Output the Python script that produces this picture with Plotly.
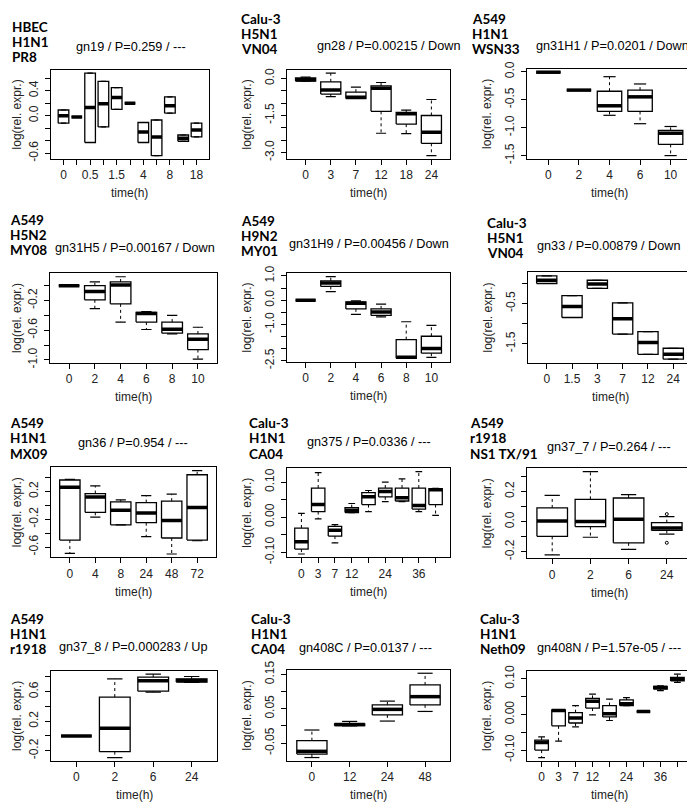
import plotly.graph_objects as go

# five-number summaries per time point: (lower whisker, Q1, median, Q3, upper whisker)
gn19_times = ['0', '', '0.5', '', '1.5', '', '4', '', '8', '', '18']
gn19_box = [(-0.12, -0.12, 0.0, 0.09, 0.09), (-0.02, -0.02, -0.02, -0.02, -0.02),
            (-0.43, -0.43, 0.13, 0.68, 0.68), (-0.18, -0.18, 0.19, 0.55, 0.55),
            (0.10, 0.10, 0.29, 0.45, 0.45), (0.2, 0.2, 0.2, 0.2, 0.2),
            (-0.43, -0.43, -0.26, -0.11, -0.11), (-0.64, -0.64, -0.34, -0.07, -0.07),
            (0.04, 0.04, 0.16, 0.30, 0.30), (-0.41, -0.41, -0.36, -0.31, -0.31),
            (-0.34, -0.34, -0.23, -0.12, -0.12)]

gn28_times = ['0', '3', '7', '12', '18', '24']
gn28_box = [(-0.10, -0.10, -0.05, 0.03, 0.06), (-0.73, -0.63, -0.46, -0.13, 0.22),
            (-0.81, -0.81, -0.76, -0.55, -0.35), (-2.22, -1.33, -0.39, -0.30, -0.16),
            (-2.24, -1.85, -1.43, -1.37, -1.28), (-3.13, -2.63, -2.18, -1.50, -0.85)]

gn31h1_times = ['0', '2', '4', '6', '10']
gn31h1_box = [(-0.01, -0.01, -0.01, -0.01, -0.01), (-0.33, -0.33, -0.33, -0.33, -0.33),
              (-0.78, -0.71, -0.61, -0.35, -0.09), (-0.93, -0.71, -0.45, -0.33, -0.22),
              (-1.50, -1.30, -1.10, -1.05, -0.98)]

gn31h5_times = ['0', '2', '4', '6', '8', '10']
gn31h5_box = [(0.0, 0.0, 0.0, 0.0, 0.0), (-0.31, -0.19, -0.08, 0.0, 0.05),
              (-0.49, -0.245, 0.01, 0.05, 0.12), (-0.59, -0.49, -0.375, -0.36, -0.35),
              (-0.65, -0.64, -0.585, -0.49, -0.40), (-0.99, -0.86, -0.72, -0.65, -0.56)]

gn31h9_times = ['0', '2', '4', '6', '8', '10']
gn31h9_box = [(0.0, 0.0, 0.0, 0.0, 0.0), (0.35, 0.57, 0.71, 0.80, 0.97),
              (-0.59, -0.36, -0.13, -0.07, -0.03), (-0.69, -0.63, -0.49, -0.36, -0.16),
              (-2.40, -2.40, -2.36, -1.63, -0.89), (-2.36, -2.19, -2.0, -1.49, -1.04)]

gn33_times = ['0', '1.5', '3', '7', '12', '24']
gn33_box = [(-0.01, -0.01, 0.07, 0.18, 0.18), (-0.85, -0.85, -0.58, -0.31, -0.31),
            (-0.13, -0.13, -0.02, 0.07, 0.07), (-1.26, -1.26, -0.88, -0.49, -0.49),
            (-1.76, -1.76, -1.47, -1.20, -1.20), (-1.88, -1.88, -1.76, -1.61, -1.61)]

gn36_times = ['0', '4', '8', '24', '48', '72']
gn36_box = [(-0.69, -0.50, 0.26, 0.365, 0.375), (-0.17, -0.10, 0.12, 0.17, 0.28),
            (-0.28, -0.28, -0.07, 0.05, 0.08), (-0.45, -0.25, -0.11, 0.04, 0.14),
            (-0.70, -0.47, -0.22, 0.06, 0.16), (-0.51, -0.50, -0.03, 0.44, 0.50)]

gn375_times = ['0', '3', '7', '12', '', '24', '', '36', '']
gn375_box = [(-0.105, -0.091, -0.07, -0.031, 0.011), (-0.005, 0.016, 0.036, 0.083, 0.127),
             (-0.073, -0.054, -0.037, -0.026, -0.021), (0.013, 0.013, 0.02, 0.027, 0.039),
             (0.016, 0.036, 0.058, 0.07, 0.076), (0.044, 0.058, 0.073, 0.083, 0.10),
             (0.044, 0.046, 0.055, 0.083, 0.109), (0.016, 0.023, 0.033, 0.083, 0.13),
             (0.005, 0.036, 0.078, 0.081, 0.082)]

gn37_7_times = ['0', '2', '6', '24']
gn37_7_box = [(-0.222, -0.098, 0.004, 0.091, 0.174), (-0.104, -0.033, 0.0, 0.148, 0.333),
              (-0.185, -0.141, 0.015, 0.157, 0.18), (-0.083, -0.059, -0.043, -0.007, 0.033)]
gn37_7_out_x = [4, 4]
gn37_7_out_y = [0.05, -0.141]

gn37_8_times = ['0', '2', '6', '24']
gn37_8_box = [(0.0, 0.0, 0.0, 0.0, 0.0), (-0.292, -0.212, 0.106, 0.527, 0.774),
              (0.593, 0.606, 0.748, 0.796, 0.836), (0.726, 0.73, 0.752, 0.774, 0.805)]

gn408c_times = ['0', '12', '24', '48']
gn408c_box = [(-0.092, -0.082, -0.074, -0.043, -0.012), (0.0, 0.001, 0.004, 0.006, 0.013),
              (0.014, 0.032, 0.048, 0.061, 0.072), (0.042, 0.061, 0.085, 0.119, 0.153)]

gn408n_times = ['0', '3', '7', '12', '', '24', '', '36', '']
gn408n_box = [(-0.121, -0.10, -0.079, -0.072, -0.063), (-0.075, -0.032, 0.011, 0.013, 0.013),
              (-0.035, -0.024, -0.01, 0.005, 0.025), (-0.001, 0.018, 0.037, 0.045, 0.057),
              (-0.017, -0.007, 0.002, 0.025, 0.043), (0.025, 0.025, 0.03, 0.041, 0.047),
              (0.008, 0.008, 0.008, 0.008, 0.008), (0.067, 0.071, 0.076, 0.079, 0.08),
              (0.09, 0.094, 0.099, 0.104, 0.113)]

# y ticks (values, shown labels)
gn19_yt = ([-0.6, -0.4, -0.2, 0, 0.2, 0.4, 0.6], ['-0.6', '', '', '0.0', '', '0.4', ''])
gn28_yt = ([0, -0.5, -1, -1.5, -2, -2.5, -3], ['0.0', '', '', '-1.5', '', '', '-3.0'])
gn31h1_yt = ([0, -0.5, -1, -1.5], ['0.0', '-0.5', '-1.0', '-1.5'])
gn31h5_yt = ([0, -0.2, -0.4, -0.6, -0.8, -1.0], ['', '-0.2', '', '-0.6', '', '-1.0'])
gn31h9_yt = ([1, 0.5, 0, -0.5, -1, -1.5, -2, -2.5], ['1.0', '', '0.0', '', '-1.0', '', '', '-2.5'])
gn33_yt = ([0, -0.5, -1, -1.5], ['', '-0.5', '', '-1.5'])
gn36_yt = ([0.4, 0.2, 0, -0.2, -0.4, -0.6], ['', '0.2', '', '-0.2', '', '-0.6'])
gn375_yt = ([0.1, 0.05, 0, -0.05, -0.1], ['0.10', '', '0.00', '', '-0.10'])
gn37_7_yt = ([0.3, 0.2, 0.1, 0, -0.1, -0.2], ['', '0.2', '', '0.0', '', '-0.2'])
gn37_8_yt = ([0.8, 0.6, 0.4, 0.2, 0, -0.2], ['', '0.6', '', '0.2', '', '-0.2'])
gn408c_yt = ([0.15, 0.1, 0.05, 0, -0.05], ['0.15', '', '0.05', '', '-0.05'])
gn408n_yt = ([0.1, 0.05, 0, -0.05, -0.1], ['0.10', '', '0.00', '', '-0.10'])

labels = [['HBEC', 'H1N1', 'PR8'], ['Calu-3', 'H5N1', 'VN04'], ['A549', 'H1N1', 'WSN33'],
          ['A549', 'H5N2', 'MY08'], ['A549', 'H9N2', 'MY01'], ['Calu-3', 'H5N1', 'VN04'],
          ['A549', 'H1N1', 'MX09'], ['Calu-3', 'H1N1', 'CA04'], ['A549', 'r1918', 'NS1 TX/91'],
          ['A549', 'H1N1', 'r1918'], ['Calu-3', 'H1N1', 'CA04'], ['Calu-3', 'H1N1', 'Neth09']]
titles = ['gn19 / P=0.259 / ---', 'gn28 / P=0.00215 / Down', 'gn31H1 / P=0.0201 / Down',
          'gn31H5 / P=0.00167 / Down', 'gn31H9 / P=0.00456 / Down', 'gn33 / P=0.00879 / Down',
          'gn36 / P=0.954 / ---', 'gn375 / P=0.0336 / ---', 'gn37_7 / P=0.264 / ---',
          'gn37_8 / P=0.000283 / Up', 'gn408C / P=0.0137 / ---', 'gn408N / P=1.57e-05 / ---']

panels = [(gn19_times, gn19_box, gn19_yt, [], []),
          (gn28_times, gn28_box, gn28_yt, [], []),
          (gn31h1_times, gn31h1_box, gn31h1_yt, [], []),
          (gn31h5_times, gn31h5_box, gn31h5_yt, [], []),
          (gn31h9_times, gn31h9_box, gn31h9_yt, [], []),
          (gn33_times, gn33_box, gn33_yt, [], []),
          (gn36_times, gn36_box, gn36_yt, [], []),
          (gn375_times, gn375_box, gn375_yt, [], []),
          (gn37_7_times, gn37_7_box, gn37_7_yt, gn37_7_out_x, gn37_7_out_y),
          (gn37_8_times, gn37_8_box, gn37_8_yt, [], []),
          (gn408c_times, gn408c_box, gn408c_yt, [], []),
          (gn408n_times, gn408n_box, gn408n_yt, [], [])]

# layout in page pixels: plot frame (left, right, top, bottom), label block, title centre
OFF = 8  # default body margin of the html page
W, H = 695 - OFF, 811 - OFF
frames = [(51, 209, 62, 153), (287, 450, 62, 153), (527, 692, 61, 153),
          (50, 217, 270, 361), (287, 450, 270, 360), (528, 692, 269, 361),
          (51, 216, 468, 560), (287, 450, 469, 560), (527, 692, 469, 561),
          (51, 217, 676, 768), (287, 450, 675, 768), (527, 692, 676, 768)]
label_pos = [(10, 18), (239, 10), (470, 10), (8, 215), (239, 216), (485, 218),
             (8, 423), (247, 423), (468, 423), (8, 623), (249, 623), (478, 623)]
title_pos = [(131, 39), (389, 38), (612, 38), (135, 244), (369, 240), (609, 242),
             (133, 443), (369, 442), (609, 447), (133, 652), (365, 653), (609, 653)]

FONT = 'Liberation Sans, Arial, sans-serif'


def px(x):
    return max(x - OFF, 0) / W


def py(y):
    return 1 - (y - OFF) / H


fig = go.Figure()
annotations = []

for k, (times, boxes, yt, out_x, out_y) in enumerate(panels, start=1):
    sfx = '' if k == 1 else str(k)
    n = len(boxes)
    bx, by, mx, my, wx, wy, cx, cy = [], [], [], [], [], [], [], []
    for x, (lo, q1, med, q3, hi) in zip(range(1, n + 1), boxes):
        bx += [x - 0.4, x + 0.4, x + 0.4, x - 0.4, x - 0.4, None]
        by += [q1, q1, q3, q3, q1, None]
        mx += [x - 0.4, x + 0.4, None]
        my += [med, med, None]
        wx += [x, x, None, x, x, None]
        wy += [q3, hi, None, q1, lo, None]
        cx += [x - 0.2, x + 0.2, None, x - 0.2, x + 0.2, None]
        cy += [hi, hi, None, lo, lo, None]

    common = dict(xaxis='x' + sfx, yaxis='y' + sfx, mode='lines', hoverinfo='skip')
    fig.add_trace(go.Scatter(x=wx, y=wy, line=dict(color='black', width=1, dash='3px,3px'), **common))
    fig.add_trace(go.Scatter(x=cx, y=cy, line=dict(color='black', width=1.2), **common))
    fig.add_trace(go.Scatter(x=bx, y=by, line=dict(color='black', width=1.3), **common))
    fig.add_trace(go.Scatter(x=mx, y=my, line=dict(color='black', width=3.5), **common))
    if out_x:
        fig.add_trace(go.Scatter(x=out_x, y=out_y, xaxis='x' + sfx, yaxis='y' + sfx, mode='markers',
                                 marker=dict(symbol='circle-open', size=3, color='black')))

    # R style range: 4% padding around the data
    vals = [v for b in boxes for v in b] + list(out_y)
    lo_v, hi_v = min(vals), max(vals)
    pad = 0.04 * (hi_v - lo_v)
    l, r, t, b = frames[k - 1]

    axis_common = dict(showline=True, mirror=True, linecolor='black', linewidth=1.3,
                       ticks='outside', ticklen=5, tickwidth=1.2, tickcolor='black',
                       showgrid=False, zeroline=False, fixedrange=True,
                       tickfont=dict(family=FONT, size=12, color='#222'))
    fig.layout['xaxis' + sfx] = dict(domain=[px(l), px(r)], anchor='y' + sfx,
                                     range=[0.5 - 0.04 * n, n + 0.5 + 0.04 * n],
                                     tickvals=list(range(1, n + 1)), ticktext=times,
                                     ticklabelstandoff=0, **axis_common)
    fig.layout['yaxis' + sfx] = dict(domain=[py(b), py(t)], anchor='x' + sfx,
                                     range=[lo_v - pad, hi_v + pad],
                                     tickvals=yt[0], ticktext=yt[1], tickangle=-90,
                                     ticklabelstandoff=2, **axis_common)

    # three-line label block
    lx, ly = label_pos[k - 1]
    for i, line in enumerate(labels[k - 1]):
        annotations.append(dict(text='<b>' + line + '</b>', x=px(lx), y=py(ly + i * 15.5),
                                xref='paper', yref='paper', xanchor='left', yanchor='middle',
                                showarrow=False, font=dict(family='Lato, sans-serif', size=13.5, color='black')))
    tx, ty = title_pos[k - 1]
    annotations.append(dict(text=titles[k - 1], x=px(tx), y=py(ty), xref='paper', yref='paper',
                            xanchor='center', yanchor='middle', showarrow=False,
                            font=dict(family=FONT, size=12.7, color='black')))
    annotations.append(dict(text='log(rel. expr.)', x=px(max(l - 40, 17)), y=py((t + b) / 2),
                            xref='paper', yref='paper', textangle=-90, showarrow=False,
                            xanchor='center', yanchor='middle',
                            font=dict(family=FONT, size=12, color='#222')))
    annotations.append(dict(text='time(h)', x=px((l + r) / 2), y=py(b + 35),
                            xref='paper', yref='paper', showarrow=False,
                            xanchor='center', yanchor='middle',
                            font=dict(family=FONT, size=12, color='#222')))

fig.update_layout(width=W, height=H, margin=dict(l=0, r=0, t=0, b=0),
                  paper_bgcolor='white', plot_bgcolor='white', showlegend=False,
                  annotations=annotations)

fig.write_html('out.html')
